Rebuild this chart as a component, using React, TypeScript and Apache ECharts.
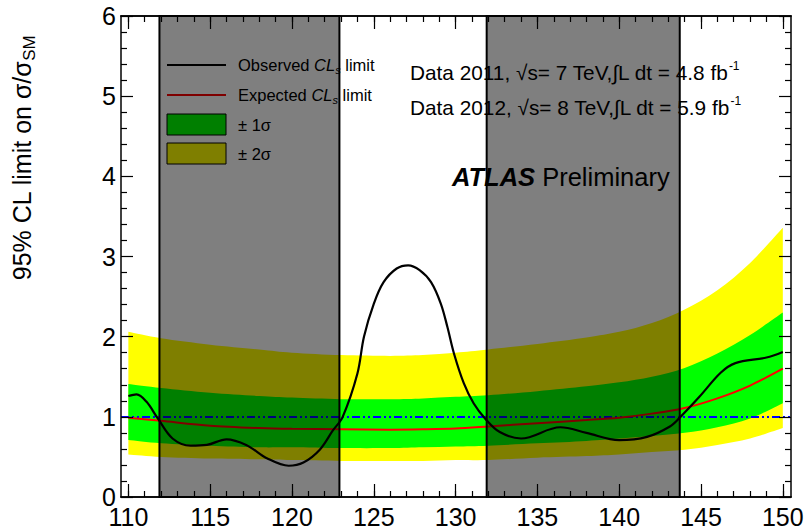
import React, { useEffect, useRef } from "react";
import * as echarts from "echarts";

const FONT = "'Liberation Sans', Arial, Helvetica, sans-serif";

// Higgs mass hypotheses (GeV) where the expected limit and its bands were read
const bandMass = [110, 112, 115, 118, 120, 123, 126, 128, 130, 132, 135, 138, 140, 142, 144, 146, 148, 150];
const twoSigmaLow = [0.53, 0.5, 0.48, 0.47, 0.46, 0.45, 0.45, 0.45, 0.46, 0.46, 0.49, 0.51, 0.53, 0.56, 0.59, 0.65, 0.73, 0.86];
const oneSigmaLow = [0.71, 0.67, 0.64, 0.62, 0.62, 0.61, 0.61, 0.62, 0.63, 0.64, 0.67, 0.7, 0.73, 0.76, 0.8, 0.87, 0.98, 1.17];
const expectedLimit = [0.99, 0.95, 0.89, 0.86, 0.85, 0.845, 0.84, 0.845, 0.855, 0.88, 0.92, 0.96, 0.99, 1.04, 1.11, 1.23, 1.39, 1.6];
const oneSigmaHigh = [1.41, 1.36, 1.3, 1.26, 1.24, 1.22, 1.22, 1.23, 1.25, 1.27, 1.32, 1.38, 1.43, 1.5, 1.61, 1.79, 2.02, 2.3];
const twoSigmaHigh = [2.06, 1.98, 1.9, 1.84, 1.8, 1.77, 1.76, 1.77, 1.8, 1.84, 1.91, 1.99, 2.06, 2.17, 2.34, 2.58, 2.92, 3.36];

// Observed limit
const observedMass = [
  110.0, 110.5, 111.1, 111.8, 112.7, 113.8, 114.8, 116.0, 117.2, 118.5, 119.8, 120.7, 121.7, 122.5, 123.1,
  124.0, 124.4, 125.0, 125.6, 126.4, 127.1, 127.8, 128.5, 129.1, 129.5, 129.9, 130.5, 131.1, 131.8, 132.7,
  134.0, 136.4, 138.0, 140.0, 141.7, 143.1, 143.7, 144.9, 146.2, 147.1, 149.0, 150.0,
];
const observedLimit = [
  1.26, 1.28, 1.19, 0.98, 0.73, 0.64, 0.65, 0.72, 0.65, 0.48, 0.39, 0.43, 0.59, 0.83, 1.0,
  1.54, 2.0, 2.41, 2.68, 2.85, 2.89, 2.83, 2.68, 2.41, 2.12, 1.79, 1.42, 1.17, 0.98, 0.81,
  0.73, 0.87, 0.8, 0.71, 0.75, 0.88, 0.99, 1.25, 1.55, 1.67, 1.74, 1.81,
];

// Shaded mass ranges
const shadedRanges = [
  [111.9, 122.9],
  [131.9, 143.7],
];

const smReference = 1;
const X_MIN = 109.55;
const X_MAX = 150.5;
const xMajorTicks = [110, 115, 120, 125, 130, 135, 140, 145, 150];
const xMinorTicks: number[] = [];
for (let m = 110; m <= 150; m++) xMinorTicks.push(m);

const pairs = (xs: number[], ys: number[]) => xs.map((x, i) => [x, ys[i]]);

const axisLineStyle = { color: "#000", width: 1.5 };
const tickLineStyle = { color: "#000", width: 1.2 };

function xAxisDef(position: string, ticks: number[], len: number, labels: boolean) {
  return {
    type: "value",
    position,
    min: X_MIN,
    max: X_MAX,
    z: 11,
    axisLine: { show: true, onZero: false, lineStyle: axisLineStyle },
    axisTick: { show: true, inside: true, length: len, customValues: ticks, lineStyle: tickLineStyle },
    axisLabel: labels
      ? { show: true, customValues: xMajorTicks, fontSize: 25, color: "#000", fontFamily: FONT, margin: 7 }
      : { show: false },
    splitLine: { show: false },
  };
}

function yAxisDef(position: string, labels: boolean) {
  return {
    type: "value",
    position,
    min: 0,
    max: 6,
    interval: 1,
    z: 11,
    axisLine: { show: true, onZero: false, lineStyle: axisLineStyle },
    axisTick: { show: true, inside: true, length: 12, lineStyle: tickLineStyle },
    minorTick: { show: true, splitNumber: 5, length: 6, lineStyle: tickLineStyle },
    axisLabel: labels
      ? { show: true, fontSize: 25, color: "#000", fontFamily: FONT, margin: 5 }
      : { show: false },
    splitLine: { show: false },
    minorSplitLine: { show: false },
  };
}

// Catmull-Rom spline through pixel points, as SVG cubic segments
function splineSegments(pts: number[][]): string {
  let d = "";
  const n = pts.length;
  for (let i = 0; i < n - 1; i++) {
    const p0 = pts[Math.max(0, i - 1)];
    const p1 = pts[i];
    const p2 = pts[i + 1];
    const p3 = pts[Math.min(n - 1, i + 2)];
    const c1x = p1[0] + (p2[0] - p0[0]) / 6;
    const c1y = p1[1] + (p2[1] - p0[1]) / 6;
    const c2x = p2[0] - (p3[0] - p1[0]) / 6;
    const c2y = p2[1] - (p3[1] - p1[1]) / 6;
    d += ` C ${c1x} ${c1y} ${c2x} ${c2y} ${p2[0]} ${p2[1]}`;
  }
  return d;
}

export default function App() {
  const ref = useRef<HTMLDivElement>(null);

  useEffect(() => {
    if (!ref.current) return;
    const chart = echarts.init(ref.current, undefined, { renderer: "svg" });

    const bandRenderer = (params: any, api: any) => {
      if (params.dataIndex !== 0) return null;
      const bandPath = (hi: number[], lo: number[]) => {
        const top = bandMass.map((m, i) => api.coord([m, hi[i]]));
        const bottom = bandMass.map((m, i) => api.coord([m, lo[i]])).reverse();
        return (
          `M ${top[0][0]} ${top[0][1]}` +
          splineSegments(top) +
          ` L ${bottom[0][0]} ${bottom[0][1]}` +
          splineSegments(bottom) +
          " Z"
        );
      };
      return {
        type: "group",
        children: [
          { type: "path", shape: { pathData: bandPath(twoSigmaHigh, twoSigmaLow) }, style: { fill: "#ffff00" } },
          { type: "path", shape: { pathData: bandPath(oneSigmaHigh, oneSigmaLow) }, style: { fill: "#00ff00" } },
        ],
      };
    };

    const legendFont = 16.5;
    const legendText = { fontFamily: FONT, fontSize: legendFont, fill: "#000" };
    const clRich = {
      i: { fontFamily: FONT, fontSize: legendFont, fill: "#000", fontStyle: "italic", lineHeight: 20 },
      s: { fontFamily: FONT, fill: "#000", fontStyle: "italic", fontSize: 11, verticalAlign: "bottom" },
    };

    const option: any = {
      animation: false,
      grid: { left: 121, right: 19, top: 16, bottom: 33, containLabel: false, outerBoundsMode: "none" },
      xAxis: [
        xAxisDef("bottom", xMajorTicks, 13, true),
        xAxisDef("bottom", xMinorTicks, 6, false),
        xAxisDef("top", xMajorTicks, 13, false),
        xAxisDef("top", xMinorTicks, 6, false),
      ],
      yAxis: [yAxisDef("left", true), yAxisDef("right", false)],
      series: [
        {
          name: "bands",
          type: "custom",
          data: pairs(bandMass, expectedLimit),
          encode: { x: 0, y: 1 },
          renderItem: bandRenderer,
          silent: true,
          z: 2,
        },
        {
          name: "Expected",
          type: "line",
          data: pairs(bandMass, expectedLimit),
          symbol: "none",
          smooth: 0.3,
          lineStyle: { color: "#ff0000", width: 2 },
          z: 3,
        },
        {
          name: "SM",
          type: "line",
          data: [],
          z: 3,
          markLine: {
            silent: true,
            symbol: "none",
            label: { show: false },
            lineStyle: { color: "#0000ff", width: 2, type: [8, 3, 2, 3, 2, 3] },
            data: [{ yAxis: smReference }],
            z: 3,
          },
        },
        {
          name: "Observed",
          type: "line",
          data: pairs(observedMass, observedLimit),
          symbol: "none",
          smooth: 0.35,
          lineStyle: { color: "#000000", width: 2.2 },
          z: 4,
        },
        {
          name: "shaded",
          type: "line",
          data: [],
          z: 10,
          markArea: {
            silent: true,
            z: 10,
            itemStyle: { color: "rgba(0,0,0,0.5)", borderColor: "#000", borderWidth: 2 },
            label: { show: false },
            data: shadedRanges.map((r) => [{ xAxis: r[0] }, { xAxis: r[1] }]),
          },
        },
      ],
      graphic: {
        elements: [
          // legend
          { type: "line", z: 5, shape: { x1: 167, y1: 65, x2: 226, y2: 65 }, style: { stroke: "#000", lineWidth: 2 } },
          { type: "line", z: 5, shape: { x1: 167, y1: 95, x2: 226, y2: 95 }, style: { stroke: "#ff0000", lineWidth: 2 } },
          { type: "rect", z: 5, shape: { x: 167, y: 114, width: 59, height: 21 }, style: { fill: "#00ff00", stroke: "#000", lineWidth: 1 } },
          { type: "rect", z: 5, shape: { x: 167, y: 143, width: 59, height: 21 }, style: { fill: "#ffff00", stroke: "#000", lineWidth: 1 } },
          {
            type: "text", z: 5, x: 238, y: 65,
            style: { ...legendText, text: "Observed {i|CL}{s|s} limit", verticalAlign: "middle", lineHeight: 20, rich: clRich },
          },
          {
            type: "text", z: 5, x: 238, y: 95,
            style: { ...legendText, text: "Expected {i|CL}{s|s} limit", verticalAlign: "middle", lineHeight: 20, rich: clRich },
          },
          { type: "text", z: 5, x: 238, y: 124.5, style: { ...legendText, text: "± 1σ", verticalAlign: "middle" } },
          { type: "text", z: 5, x: 238, y: 153.5, style: { ...legendText, text: "± 2σ", verticalAlign: "middle" } },
          // data labels
          {
            type: "text", z: 12, x: 410, y: 72,
            style: {
              fontFamily: FONT, fontSize: 20.8, fill: "#000", verticalAlign: "middle", lineHeight: 24,
              text: "Data 2011, √s= 7 TeV,∫L dt = 4.8 fb{sup|-1}",
              rich: { sup: { fontFamily: FONT, fontSize: 12, fill: "#000", verticalAlign: "top" } },
            },
          },
          {
            type: "text", z: 12, x: 410, y: 107,
            style: {
              fontFamily: FONT, fontSize: 20.8, fill: "#000", verticalAlign: "middle", lineHeight: 24,
              text: "Data 2012, √s= 8 TeV,∫L dt = 5.9 fb{sup|-1}",
              rich: { sup: { fontFamily: FONT, fontSize: 12, fill: "#000", verticalAlign: "top" } },
            },
          },
          {
            type: "text", z: 12, x: 452, y: 177,
            style: {
              fontFamily: FONT, fontSize: 25.5, fill: "#000", verticalAlign: "middle",
              text: "{b|ATLAS} Preliminary",
              rich: { b: { fontFamily: FONT, fontSize: 25.5, fontWeight: "bold", fontStyle: "italic", fill: "#000" } },
            },
          },
          // y-axis title
          {
            type: "text", z: 12, x: 22, y: 158, rotation: Math.PI / 2,
            style: {
              fontFamily: FONT, fontSize: 25, fill: "#000", align: "center", verticalAlign: "middle", lineHeight: 32,
              text: "95% CL limit on σ/σ{sub|SM}",
              rich: { sub: { fontFamily: FONT, fontSize: 17, fill: "#000", verticalAlign: "bottom" } },
            },
          },
        ],
      },
    };

    chart.setOption(option);
    return () => chart.dispose();
  }, []);

  return (
    <div
      ref={ref}
      style={{ position: "fixed", left: 0, top: 0, width: 810, height: 530, background: "#fff" }}
    />
  );
}
